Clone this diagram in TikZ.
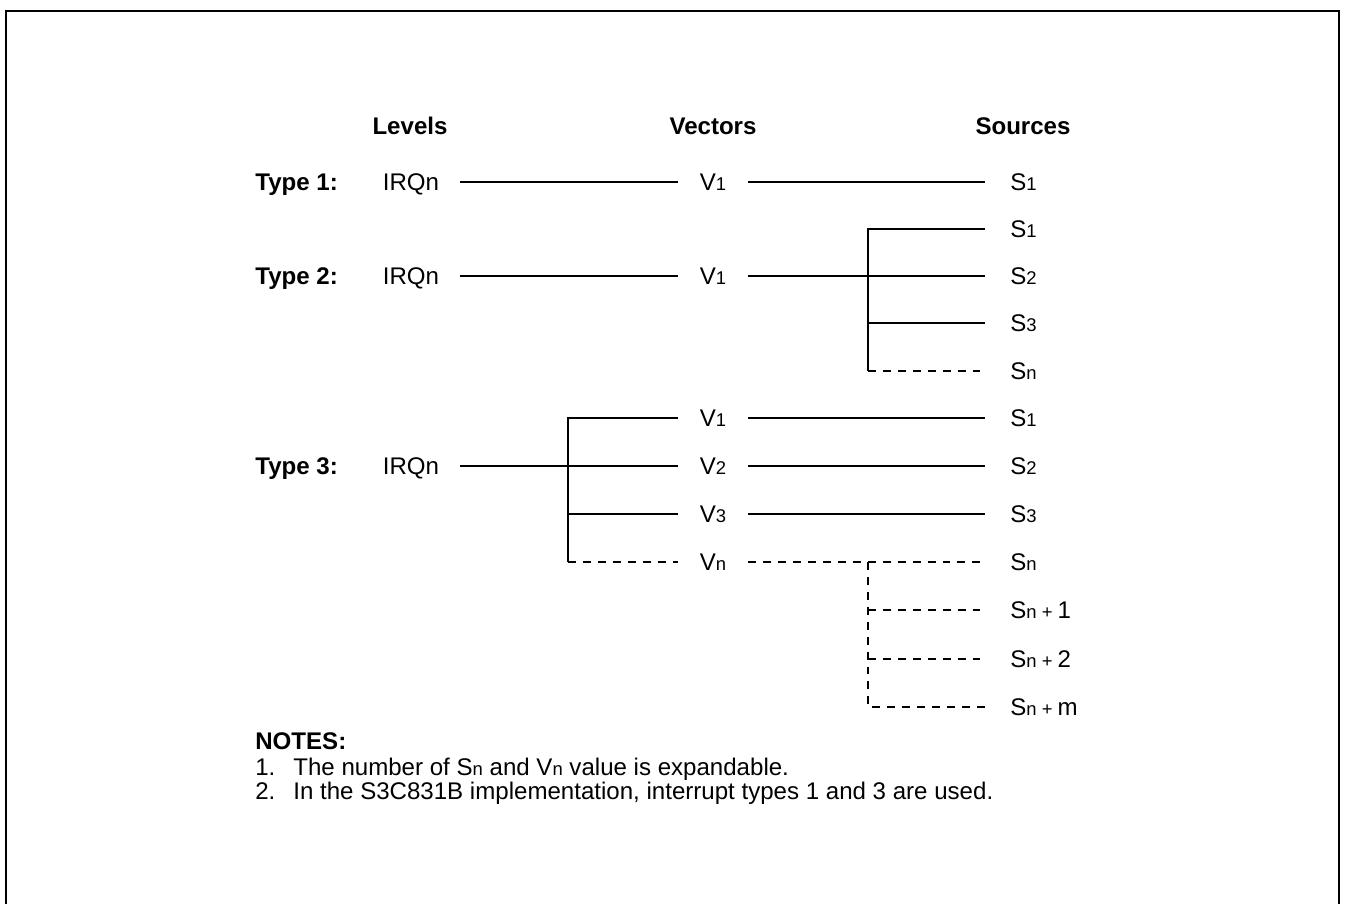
\documentclass[tikz,border=0pt]{standalone}
\usepackage{fontspec}
\setmainfont{Liberation Sans}
\usetikzlibrary{positioning}
\newcommand{\irfont}{\fontsize{13.7}{15}\selectfont}
\newcommand{\lo}[1]{{\fontsize{10.5}{11}\selectfont #1}}
\tikzset{
  irlabel/.style={font=\irfont, inner sep=0pt, text height=9.8pt, text depth=0pt},
  irhead/.style={irlabel, font=\irfont\bfseries},
  irtype/.style={irlabel, font=\irfont\bfseries, anchor=west},
  irlevel/.style={irlabel, minimum width=1.96cm},
  irvec/.style={irlabel, minimum width=1.4cm},
  irsrc/.style={irlabel, anchor=west, inner xsep=0.5cm},
  irwire/.style={line width=0.8pt},
  irdash/.style={irwire, dash pattern=on 4.5pt off 4pt},
  irnote/.style={irlabel, anchor=west},
  irframe/.style={line width=1.2pt}
}
\begin{document}
\begin{tikzpicture}[x=1cm,y=1cm]
\useasboundingbox (0,0) rectangle (26.94,18.08);
\draw[irframe] (0.12,0) -- (0.12,17.86) -- (26.78,17.86) -- (26.78,0);

% column heads
\node[irhead] (hlev) at (8.20,15.56) {Levels};
\node[irhead] (hvec) at (14.26,15.56) {Vectors};
\node[irhead] (hsrc) at (20.46,15.56) {Sources};

% Type 1
\node[irtype] (t1) at (5.10,14.44) {Type 1:};
\node[irlevel] (t1irq) at (8.22,14.44) {IRQn};
\node[irvec] (t1v1) at (14.26,14.44) {V\lo{1}};
\node[irsrc] (t1s1) at (19.70,14.44) {S\lo{1}};
\draw[irwire] (t1irq) -- (t1v1);
\draw[irwire] (t1v1) -- (t1s1);

% Type 2
\node[irtype] (t2) at (5.10,12.56) {Type 2:};
\node[irlevel] (t2irq) at (8.22,12.56) {IRQn};
\node[irvec] (t2v1) at (14.26,12.56) {V\lo{1}};
\node[irsrc] (t2s1) at (19.70,13.50) {S\lo{1}};
\node[irsrc] (t2s2) at (19.70,12.56) {S\lo{2}};
\node[irsrc] (t2s3) at (19.70,11.62) {S\lo{3}};
\node[irsrc] (t2sn) at (19.70,10.66) {S\lo{n}};
\coordinate (t2bus) at (17.36,12.56);
\draw[irwire] (t2irq) -- (t2v1);
\draw[irwire] (t2v1) -- (t2s2);
\draw[irwire] (t2s1.west) -| (t2bus |- t2sn.west);
\draw[irwire] (t2bus |- t2s3.west) -- (t2s3);
\draw[irdash] (t2bus |- t2sn.west) -- (t2sn);

% Type 3
\node[irtype] (t3) at (5.10,8.76) {Type 3:};
\node[irlevel] (t3irq) at (8.22,8.76) {IRQn};
\node[irvec] (t3v1) at (14.26,9.72) {V\lo{1}};
\node[irvec] (t3v2) at (14.26,8.76) {V\lo{2}};
\node[irvec] (t3v3) at (14.26,7.80) {V\lo{3}};
\node[irvec] (t3vn) at (14.26,6.84) {V\lo{n}};
\node[irsrc] (t3s1) at (19.70,9.72) {S\lo{1}};
\node[irsrc] (t3s2) at (19.70,8.76) {S\lo{2}};
\node[irsrc] (t3s3) at (19.70,7.80) {S\lo{3}};
\node[irsrc] (t3sn) at (19.70,6.84) {S\lo{n}};
\node[irsrc] (t3sp1) at (19.70,5.88) {S\lo{n + }1};
\node[irsrc] (t3sp2) at (19.70,4.90) {S\lo{n + }2};
\node[irsrc] (t3spm) at (19.70,3.94) {S\lo{n + }m};
\coordinate (t3bus) at (11.36,8.76);
\coordinate (t3ext) at (17.36,6.84);
\draw[irwire] (t3irq) -- (t3v2);
\draw[irwire] (t3v1.west) -| (t3bus |- t3vn.west);
\draw[irwire] (t3bus |- t3v3.west) -- (t3v3);
\draw[irdash] (t3bus |- t3vn.west) -- (t3vn);
\draw[irwire] (t3v1) -- (t3s1);
\draw[irwire] (t3v2) -- (t3s2);
\draw[irwire] (t3v3) -- (t3s3);
\draw[irdash] (t3vn) -- (t3sn);
\draw[irdash] (t3ext) |- (t3spm);
\draw[irdash] (t3ext |- t3sp1.west) -- (t3sp1);
\draw[irdash] (t3ext |- t3sp2.west) -- (t3sp2);

% notes
\node[irtype] (notes) at (5.10,3.26) {NOTES:};
\node[irnote] (n1) at (5.10,2.74) {1.};
\node[irnote] (n1t) at (5.86,2.74) {The number of S\lo{n} and V\lo{n} value is expandable.};
\node[irnote] (n2) at (5.10,2.26) {2.};
\node[irnote] (n2t) at (5.86,2.26) {In the S3C831B implementation, interrupt types 1 and 3 are used.};
\end{tikzpicture}
\end{document}
